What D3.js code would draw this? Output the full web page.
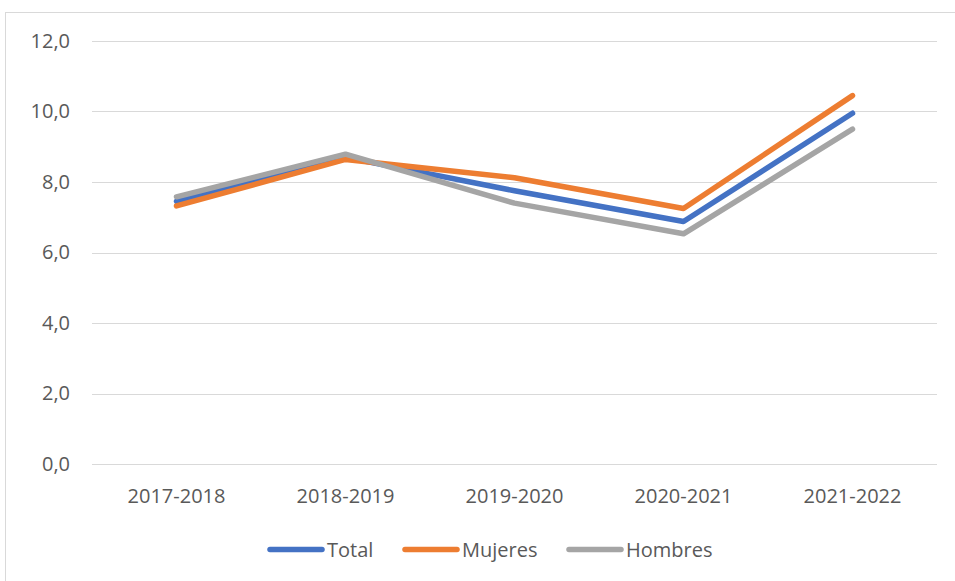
<!DOCTYPE html>
<html>
<head>
<meta charset="utf-8">
<script src="https://cdn.jsdelivr.net/npm/d3@7"></script>
<style>
  body { margin: 0; background: #fff; }
  text { font-family: "Open Sans", "Noto Sans", sans-serif; fill: #595959; }
</style>
</head>
<body>
<div id="main"></div>
<script>
var categories = ["2017-2018", "2018-2019", "2019-2020", "2020-2021", "2021-2022"];
var seriesNames = ["Total", "Mujeres", "Hombres"];
var totalValues = [7.45, 8.70, 7.75, 6.88, 9.95];
var mujeresValues = [7.32, 8.64, 8.12, 7.25, 10.45];
var hombresValues = [7.58, 8.79, 7.40, 6.53, 9.50];
var yTicks = [0, 2, 4, 6, 8, 10, 12];
var colors = ["#4472C4", "#ED7D31", "#A5A5A5"];

var width = 955, height = 581;
var margin = {top: 41, right: 18, bottom: 117, left: 92};
var fontSize = "20px";

var translate = function(x, y) { return "translate(" + x + "," + y + ")"; };

var svg = d3.select("#main").append("svg")
    .attr("width", width)
    .attr("height", height);

// chart frame
svg.append("rect")
    .attr("x", 5.5).attr("y", 12.5)
    .attr("width", 1000).attr("height", 1000)
    .attr("fill", "none")
    .attr("stroke", "#D9D9D9");

var x = d3.scaleBand()
    .domain(categories)
    .range([margin.left, width - margin.right]);

var y = d3.scaleLinear()
    .domain([0, 12])
    .range([height - margin.bottom, margin.top]);

// gridlines
svg.append("g").selectAll("line")
    .data(yTicks)
    .enter().append("line")
    .attr("x1", margin.left).attr("x2", width - margin.right)
    .attr("y1", function(d) { return Math.round(y(d)) + 0.5; })
    .attr("y2", function(d) { return Math.round(y(d)) + 0.5; })
    .attr("stroke", "#D9D9D9")
    .attr("stroke-width", 1);

var yAxis = d3.axisLeft(y)
    .tickValues(yTicks)
    .tickSize(0)
    .tickPadding(22)
    .tickFormat(function(d) { return d3.format(".1f")(d).replace(".", ","); });

svg.append("g")
    .attr("transform", translate(margin.left, 0))
    .call(yAxis)
    .call(function(g) { g.select(".domain").remove(); })
    .selectAll("text")
    .style("font-size", fontSize)
    .attr("fill", "#595959");

var xAxis = d3.axisBottom(x)
    .tickSize(0)
    .tickPadding(25);

svg.append("g")
    .attr("transform", translate(0, height - margin.bottom))
    .call(xAxis)
    .call(function(g) { g.select(".domain").remove(); })
    .selectAll("text")
    .style("font-size", fontSize)
    .attr("fill", "#595959");

var allSeries = [totalValues, mujeresValues, hombresValues];

var line = d3.line()
    .x(function(d, i) { return x(categories[i]) + x.bandwidth() / 2; })
    .y(function(d) { return y(d); });

svg.append("g").selectAll("path")
    .data(allSeries)
    .enter().append("path")
    .attr("d", line)
    .attr("fill", "none")
    .attr("stroke", function(d, i) { return colors[i]; })
    .attr("stroke-width", 5.5)
    .attr("stroke-linecap", "round")
    .attr("stroke-linejoin", "round");

// legend
var legendX = [268, 403, 567];
var legend = svg.append("g").selectAll("g")
    .data(seriesNames)
    .enter().append("g")
    .attr("transform", function(d, i) { return translate(legendX[i], 549.5); });

legend.append("line")
    .attr("x1", 2).attr("x2", 54)
    .attr("y1", 0).attr("y2", 0)
    .attr("stroke", function(d, i) { return colors[i]; })
    .attr("stroke-width", 5.5)
    .attr("stroke-linecap", "round");

legend.append("text")
    .attr("x", 59)
    .attr("y", 7)
    .style("font-size", fontSize)
    .text(function(d) { return d; });
</script>
</body>
</html>
